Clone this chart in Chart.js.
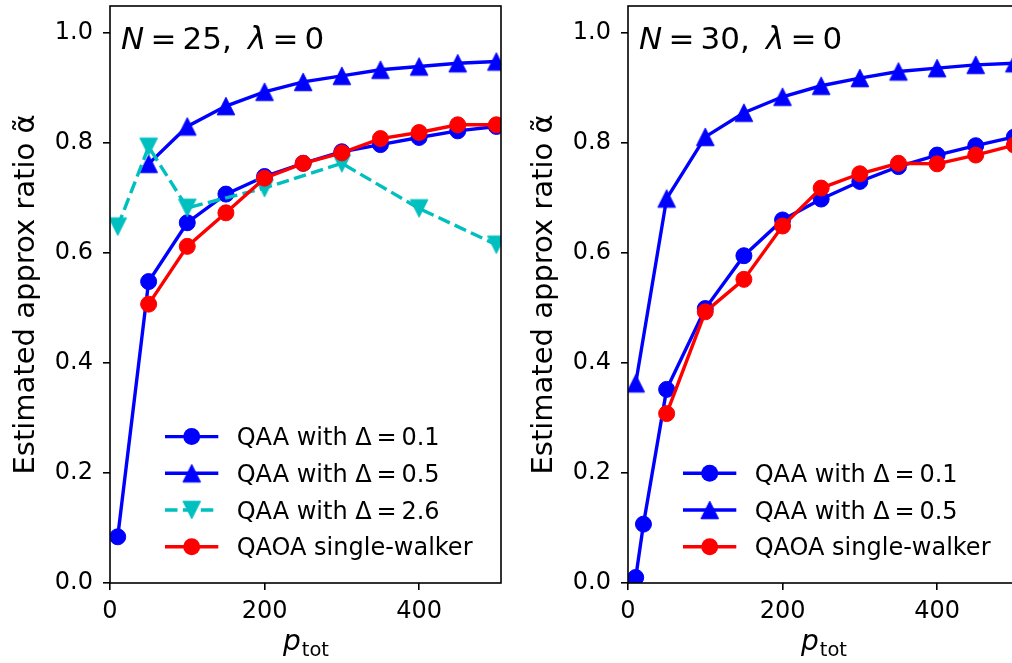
<!DOCTYPE html>
<html><head><meta charset="utf-8">
<script src="https://cdn.jsdelivr.net/npm/chart.js@4.4.0/dist/chart.umd.min.js"></script>
<style>
html,body{margin:0;padding:0;background:#fff;overflow:hidden;width:1012px;height:663px;}
#wrap{position:relative;width:1012px;height:663px;overflow:hidden;background:#fff;}
.box{position:absolute;top:0;width:520px;height:663px;}
#b1{left:0}
#b2{left:518px}
</style></head><body>
<div id="wrap">
  <div class="box" id="b1"><canvas id="c1" width="520" height="663"></canvas></div>
  <div class="box" id="b2"><canvas id="c2" width="520" height="663"></canvas></div>
</div>
<script>
// ---------------- data ----------------
const seriesLabels = ['QAA with \u0394\u2009=\u20090.1', 'QAA with \u0394\u2009=\u20090.5', 'QAA with \u0394\u2009=\u20092.6', 'QAOA single-walker'];
const xTickValues = [0, 200, 400];
const yTickValues = [0.0, 0.2, 0.4, 0.6, 0.8, 1.0];
const xRange = [0, 506];
const yRange = [0, 1.049];

// Panel N = 25
const pTot25Delta01 = [10, 50, 100, 150, 200, 250, 300, 350, 400, 450, 500];
const alpha25Delta01 = [0.084, 0.548, 0.655, 0.707, 0.739, 0.763, 0.784, 0.797, 0.810, 0.822, 0.830];
const pTot25Delta05 = [50, 100, 150, 200, 250, 300, 350, 400, 450, 500];
const alpha25Delta05 = [0.762, 0.830, 0.867, 0.893, 0.911, 0.922, 0.933, 0.939, 0.945, 0.948];
const pTot25Delta26 = [10, 50, 100, 200, 300, 400, 500];
const alpha25Delta26 = [0.648, 0.793, 0.682, 0.718, 0.763, 0.681, 0.615];
const pTot25Qaoa = [50, 100, 150, 200, 250, 300, 350, 400, 450, 500];
const alpha25Qaoa = [0.507, 0.612, 0.673, 0.736, 0.763, 0.782, 0.808, 0.819, 0.833, 0.833];

// Panel N = 30
const pTot30Delta01 = [10, 20, 50, 100, 150, 200, 250, 300, 350, 400, 450, 500];
const alpha30Delta01 = [0.010, 0.107, 0.352, 0.499, 0.595, 0.660, 0.698, 0.730, 0.757, 0.778, 0.795, 0.811];
const pTot30Delta05 = [10, 50, 100, 150, 200, 250, 300, 350, 400, 450, 500];
const alpha30Delta05 = [0.363, 0.699, 0.811, 0.855, 0.884, 0.904, 0.918, 0.930, 0.936, 0.942, 0.945];
const pTot30Qaoa = [50, 100, 150, 200, 250, 300, 350, 400, 450, 500];
const alpha30Qaoa = [0.308, 0.493, 0.552, 0.649, 0.718, 0.744, 0.763, 0.762, 0.778, 0.796];

const panelTitle25 = [['N', true], ['\u2009=\u200925,\u2009 ', false], ['\u03bb', true], ['\u2009=\u20090', false]];
const panelTitle30 = [['N', true], ['\u2009=\u200930,\u2009 ', false], ['\u03bb', true], ['\u2009=\u20090', false]];
const yAxisTitle = 'Estimated approx ratio \u03b1\u0303';
const xAxisTitleMain = 'p';
const xAxisTitleSub = 'tot';

// ---------------- styling ----------------
const FONT = "'DejaVu Sans', 'Liberation Sans', sans-serif";
const BLUE = '#0000ff', RED = '#ff0000', CYAN = '#00bfbf', INK = '#000000';
const LW = 3.4;

function makeTriangle(color, down) {
  const s = 24, h = 8.8, c = s / 2;
  const cv = document.createElement('canvas');
  cv.width = s; cv.height = s;
  const g = cv.getContext('2d');
  g.beginPath();
  if (!down) { g.moveTo(c, c - h); g.lineTo(c - h, c + h); g.lineTo(c + h, c + h); }
  else { g.moveTo(c, c + h); g.lineTo(c - h, c - h); g.lineTo(c + h, c - h); }
  g.closePath();
  g.fillStyle = color; g.fill();
  g.lineWidth = 1; g.strokeStyle = color; g.stroke();
  return cv;
}
const triUp = makeTriangle(BLUE, false);
const triDown = makeTriangle(CYAN, true);

function series(label, xs, ys, color, marker, dashed, order) {
  return {
    label,
    data: xs.map((x, i) => ({ x, y: ys[i] })),
    borderColor: color,
    backgroundColor: color,
    borderWidth: LW,
    borderDash: dashed ? [12.5, 5.4] : [],
    pointStyle: marker,
    pointRadius: marker === 'circle' ? 8 : 9,
    pointBorderWidth: 1,
    pointBorderColor: color,
    pointBackgroundColor: color,
    tension: 0,
    clip: 0,
    order
  };
}

const framePlugin = {
  id: 'frame',
  afterDatasetsDraw(chart) {
    const a = chart.chartArea, ctx = chart.ctx;
    ctx.save();
    ctx.strokeStyle = INK; ctx.lineWidth = 1.6;
    ctx.strokeRect(a.left, a.top, a.right - a.left, a.bottom - a.top);
    ctx.restore();
  }
};

const textPlugin = {
  id: 'texts',
  afterDraw(chart, args, opts) {
    const a = chart.chartArea, ctx = chart.ctx;
    ctx.save();
    ctx.fillStyle = INK;
    ctx.textBaseline = 'alphabetic';
    ctx.textAlign = 'left';
    // panel annotation
    let x = a.left + 11;
    const yb = a.top + 42.5;
    for (const [t, it] of opts.title) {
      ctx.font = (it ? 'italic ' : '') + '31px ' + FONT;
      ctx.fillText(t, x, yb);
      x += ctx.measureText(t).width;
    }
    // x-axis title p_tot
    ctx.font = 'italic 28px ' + FONT;
    const wMain = ctx.measureText(xAxisTitleMain).width;
    ctx.font = '19.5px ' + FONT;
    const wSub = ctx.measureText(xAxisTitleSub).width;
    const cx = (a.left + a.right) / 2;
    let sx = cx - (wMain + wSub) / 2;
    ctx.font = 'italic 28px ' + FONT;
    ctx.fillText(xAxisTitleMain, sx, 650);
    ctx.font = '19.5px ' + FONT;
    ctx.fillText(xAxisTitleSub, sx + wMain + 1, 656);
    // legend
    const ds = chart.data.datasets;
    const rowH = 36.7;
    const lastY = a.bottom - 36.3;
    ds.forEach((d, i) => {
      const ry = lastY - (ds.length - 1 - i) * rowH;
      const lx0 = a.left + 55, lx1 = a.left + 108.3, mx = a.left + 81.7;
      ctx.save();
      ctx.strokeStyle = d.borderColor; ctx.lineWidth = LW;
      ctx.setLineDash(d.borderDash || []);
      ctx.beginPath(); ctx.moveTo(lx0, ry); ctx.lineTo(lx1, ry); ctx.stroke();
      ctx.setLineDash([]);
      if (d.pointStyle === 'circle') {
        ctx.fillStyle = d.borderColor;
        ctx.beginPath(); ctx.arc(mx, ry, 8.5, 0, Math.PI * 2); ctx.fill();
      } else {
        const im = d.pointStyle;
        ctx.drawImage(im, mx - im.width / 2, ry - im.height / 2);
      }
      ctx.restore();
      ctx.fillStyle = INK;
      ctx.font = '24px ' + FONT;
      ctx.fillText(d.label, a.left + 126.7, ry + 8.6);
    });
    ctx.restore();
  }
};

function makeChart(canvasId, datasets, title) {
  return new Chart(document.getElementById(canvasId), {
    type: 'line',
    data: { datasets },
    options: {
      responsive: false,
      animation: false,
      devicePixelRatio: 1,
      layout: { autoPadding: false, padding: { top: 6, right: 19, left: 0, bottom: 0 } },
      plugins: {
        legend: { display: false },
        tooltip: { enabled: false },
        texts: { title }
      },
      scales: {
        x: {
          type: 'linear',
          min: xRange[0], max: xRange[1],
          afterFit(s) { s.height = 80; s.paddingLeft = 0; s.paddingRight = 0; },
          afterBuildTicks(s) { s.ticks = xTickValues.map(v => ({ value: v })); },
          border: { display: false },
          grid: { drawOnChartArea: false, drawTicks: true, tickLength: 7, color: INK, lineWidth: 1.6 },
          ticks: { color: INK, font: { family: FONT, size: 24 }, padding: 7, maxRotation: 0,
                   callback: v => String(v) }
        },
        y: {
          type: 'linear',
          min: yRange[0], max: yRange[1],
          afterFit(s) { s.width = 110; s.paddingTop = 0; s.paddingBottom = 0; },
          afterBuildTicks(s) { s.ticks = yTickValues.map(v => ({ value: v })); },
          border: { display: false },
          grid: { drawOnChartArea: false, drawTicks: true, tickLength: 7, color: INK, lineWidth: 1.6 },
          ticks: { color: INK, font: { family: FONT, size: 24 }, padding: 10,
                   callback: v => Number(v).toFixed(1) },
          title: { display: true, text: yAxisTitle, color: INK,
                   font: { family: FONT, size: 29 }, padding: { top: 9, bottom: 0 } }
        }
      }
    },
    plugins: [framePlugin, textPlugin]
  });
}

makeChart('c1', [
  series(seriesLabels[0], pTot25Delta01, alpha25Delta01, BLUE, 'circle', false, 3),
  series(seriesLabels[1], pTot25Delta05, alpha25Delta05, BLUE, triUp, false, 2),
  series(seriesLabels[2], pTot25Delta26, alpha25Delta26, CYAN, triDown, true, 1),
  series(seriesLabels[3], pTot25Qaoa, alpha25Qaoa, RED, 'circle', false, 0)
], panelTitle25);

makeChart('c2', [
  series(seriesLabels[0], pTot30Delta01, alpha30Delta01, BLUE, 'circle', false, 3),
  series(seriesLabels[1], pTot30Delta05, alpha30Delta05, BLUE, triUp, false, 2),
  series(seriesLabels[3], pTot30Qaoa, alpha30Qaoa, RED, 'circle', false, 0)
], panelTitle30);
</script>
</body></html>
